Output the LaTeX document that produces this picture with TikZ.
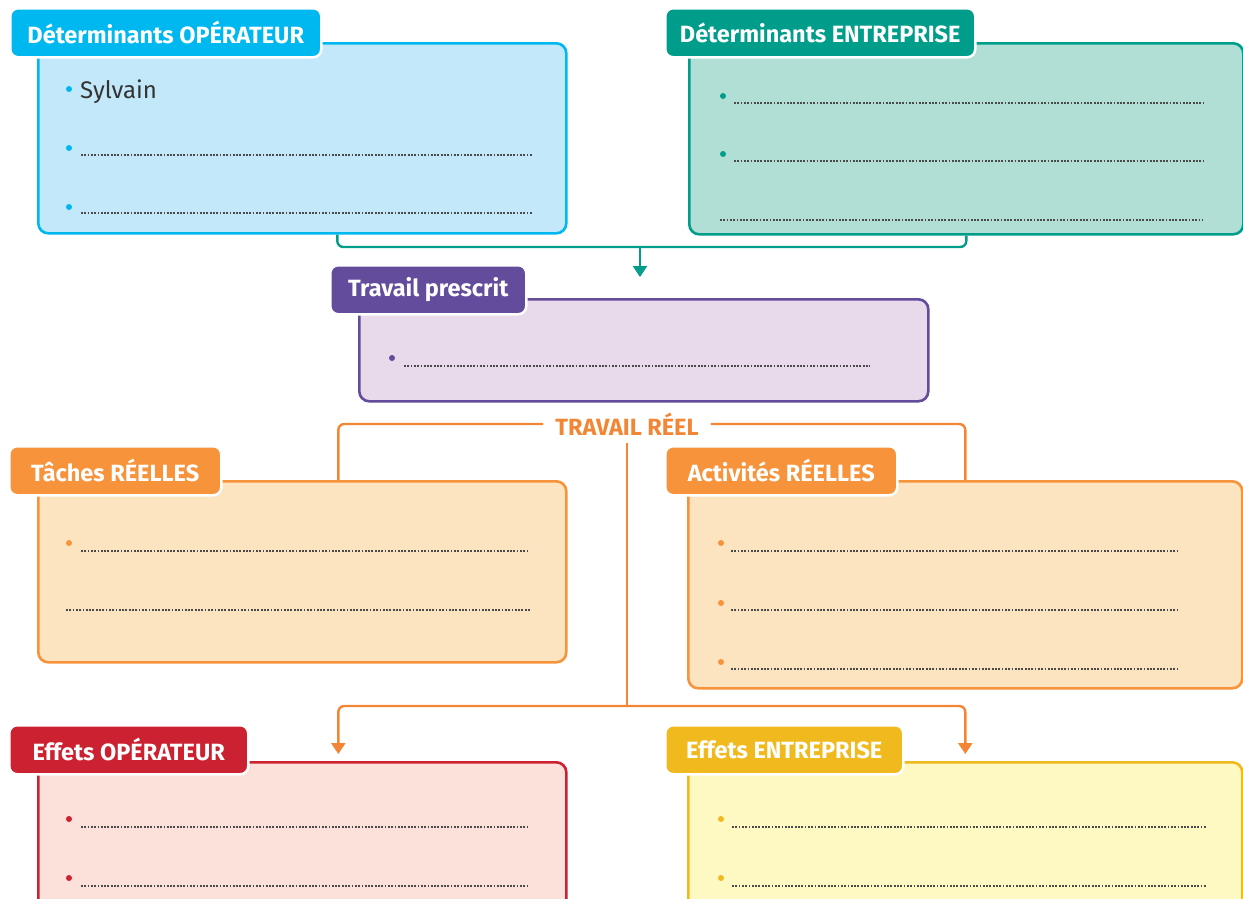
\documentclass[tikz,border=0pt]{standalone}
\usepackage{fontspec}
\setmainfont{Fira Sans}
\usetikzlibrary{arrows.meta}
\definecolor{cyanT}{HTML}{00B8F0}
\definecolor{cyanF}{HTML}{C3E8F9}
\definecolor{tealT}{HTML}{009E8A}
\definecolor{tealF}{HTML}{B1DFD5}
\definecolor{purpT}{HTML}{634C9B}
\definecolor{purpF}{HTML}{E8DAEB}
\definecolor{oranT}{HTML}{F7933B}
\definecolor{oranF}{HTML}{FDE4C0}
\definecolor{oranL}{HTML}{F28634}
\definecolor{redT}{HTML}{CC2130}
\definecolor{redF}{HTML}{FBE1D9}
\definecolor{yelT}{HTML}{F0BA1F}
\definecolor{yelF}{HTML}{FEF8C3}
\definecolor{dotc}{HTML}{4A4A4A}
\definecolor{txtc}{HTML}{333333}
\begin{document}
\begin{tikzpicture}[x=1pt,y=-1pt,
  mainbox/.style={rectangle, rounded corners=10pt, line width=2.6pt, anchor=north west, inner sep=0pt},
  tabbox/.style={rectangle, rounded corners=8pt, draw=white, line width=2.5pt, anchor=north west,
     text=white, font=\fontsize{23.5}{26}\selectfont\bfseries, inner sep=0pt, minimum height=49pt},
  dotline/.style={draw=dotc, line width=1.8pt, dash pattern=on 1.8pt off 1.5pt},
  conn/.style={line width=2.4pt, rounded corners=6pt},
  arr/.style={-{Triangle[width=14pt,length=11pt]}},
  bul/.style={radius=3pt}
]
\clip (0,0) rectangle (1243,898);
\useasboundingbox (0,0) rectangle (1243,898);

% main boxes
\node[mainbox, draw=cyanT, fill=cyanF, minimum width=528pt, minimum height=190pt] (b1) at (37,42) {};
\node[mainbox, draw=tealT, fill=tealF, minimum width=554pt, minimum height=191pt] (b2) at (688,42) {};
\node[mainbox, draw=purpT, fill=purpF, minimum width=569pt, minimum height=102pt] (b3) at (358,298) {};
\node[mainbox, draw=oranT, fill=oranF, minimum width=528pt, minimum height=181pt] (b4) at (37,480) {};
\node[mainbox, draw=oranT, fill=oranF, minimum width=554pt, minimum height=207pt] (b5) at (687,480) {};
\node[mainbox, draw=redT, fill=redF, minimum width=528pt, minimum height=170pt] (b6) at (37,761) {};
\node[mainbox, draw=yelT, fill=yelF, minimum width=554pt, minimum height=170pt] (b7) at (687,761) {};

% tabs
\node[tabbox, fill=cyanT, minimum width=311pt] (t1) at (9,7) {Déterminants OPÉRATEUR};
\node[tabbox, fill=tealT, minimum width=310pt] (t2) at (664,7) {Déterminants ENTREPRISE};
\node[tabbox, fill=purpT, minimum width=196pt] (t3) at (329,264) {Travail prescrit};
\node[tabbox, fill=oranT, minimum width=212pt] (t4) at (8,445) {Tâches RÉELLES};
\node[tabbox, fill=oranT, minimum width=232pt] (t5) at (664,445) {Activités RÉELLES};
\node[tabbox, fill=redT, minimum width=239pt] (t6) at (8,724) {Effets OPÉRATEUR};
\node[tabbox, fill=yelT, minimum width=238pt] (t7) at (664,724) {Effets ENTREPRISE};

% teal connector
\coordinate (j1) at (640,247);
\coordinate (tp) at (640,277);
\draw[conn, draw=tealT] ([xshift=35pt]b1.south) |- (j1) -| (b2.south);
\draw[conn, draw=tealT, arr] (j1) -- (tp);

% orange TRAVAIL REEL
\node[font=\fontsize{23.5}{26}\selectfont\bfseries, text=oranL, inner xsep=12pt, inner ysep=2pt] (trl) at (627,424) {TRAVAIL RÉEL};
\draw[conn, draw=oranL] ([xshift=36pt]b4.north) |- (trl.west);
\draw[conn, draw=oranL] (b5.north) |- (trl.east);
\coordinate (j2) at (627,706);
\draw[conn, draw=oranL] (trl.center) ++(0,19) -- (j2);
\draw[conn, draw=oranL, arr] (j2) -| ([xshift=36pt, yshift=7pt]b6.north);
\draw[conn, draw=oranL, arr] (j2) -| ([yshift=7pt]b7.north);

% box 1 content
\fill[cyanT] (69,89) circle[bul];
\node[anchor=base west, inner sep=0pt, font=\fontsize{24}{26}\selectfont, text=txtc] (syl) at (80,98) {Sylvain};
\fill[cyanT] (69,148) circle[bul];
\draw[dotline] (81,155) -- (533,155);
\fill[cyanT] (69,207) circle[bul];
\draw[dotline] (81,213) -- (533,213);

% box 2 content
\fill[tealT] (723,96) circle[bul];
\draw[dotline] (734,103) -- (1205,103);
\fill[tealT] (723,154) circle[bul];
\draw[dotline] (734,161) -- (1205,161);
\draw[dotline] (720,220) -- (1202,220);

% box 3 content
\fill[purpT] (392,358) circle[bul];
\draw[dotline] (404,366) -- (870,366);

% box 4 content
\fill[oranT] (69,543) circle[bul];
\draw[dotline] (81,551) -- (529,551);
\draw[dotline] (66,610) -- (530,610);

% box 5 content
\fill[oranT] (721,543) circle[bul];
\draw[dotline] (731,551) -- (1179,551);
\fill[oranT] (721,603) circle[bul];
\draw[dotline] (731,610) -- (1179,610);
\fill[oranT] (721,662) circle[bul];
\draw[dotline] (731,669) -- (1179,669);

% box 6 content
\fill[redT] (69,819) circle[bul];
\draw[dotline] (81,827) -- (529,827);
\fill[redT] (69,878) circle[bul];
\draw[dotline] (81,886) -- (529,886);

% box 7 content
\fill[yelT] (721,819) circle[bul];
\draw[dotline] (732,827) -- (1207,827);
\fill[yelT] (721,878) circle[bul];
\draw[dotline] (732,886) -- (1207,886);
\end{tikzpicture}
\end{document}
